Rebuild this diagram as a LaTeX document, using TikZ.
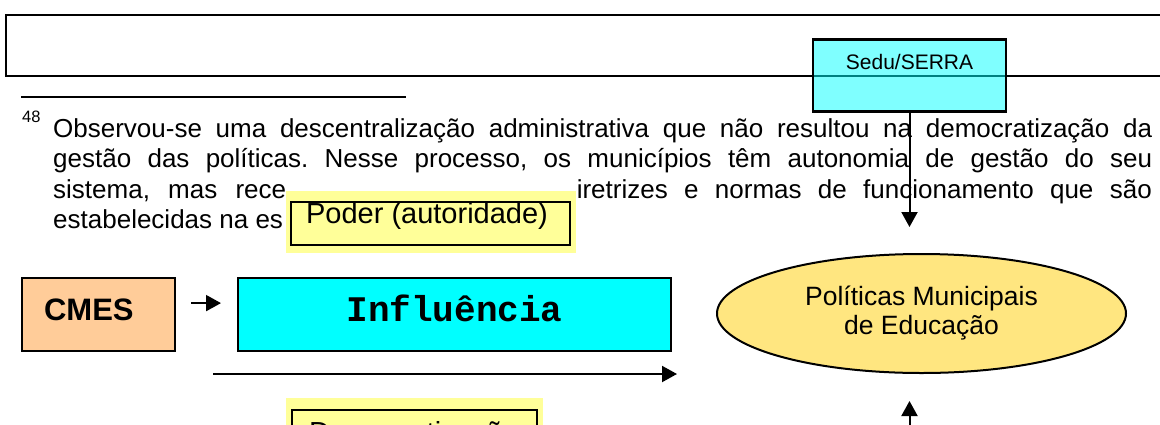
\documentclass[tikz,border=0pt]{standalone}
\usepackage{fontspec}
\setmainfont{Liberation Sans}
\setmonofont{Liberation Mono}
\usepackage{tikz}
\usetikzlibrary{shapes.geometric,arrows.meta}
\frenchspacing

\definecolor{cmesorange}{RGB}{255,204,153}
\definecolor{inflcyan}{RGB}{0,255,255}
\definecolor{poderyellow}{RGB}{255,255,153}
\definecolor{polyellow}{RGB}{255,230,128}

\newcommand{\fsz}[2]{\fontsize{#1}{#2}\selectfont}

\begin{document}
\begin{tikzpicture}[x=1pt,y=-1pt,
  frame/.style={draw,line width=2.5pt},
  box/.style={draw,line width=2.2pt,inner sep=0pt},
  arr/.style={line width=2pt,-{Triangle[length=15pt,width=16pt]}},
  fn/.style={inner sep=0pt,anchor=base west,font=\fsz{26}{30}}]
\useasboundingbox (0,0) rectangle (1160,424);
\clip (0,0) rectangle (1160,424);

% page behind the diagram
\draw[frame] (6,15) rectangle (1175,76);
\draw[line width=2.5pt] (21,97) -- (406,97);
\node[inner sep=0pt,anchor=base west,font=\fsz{16.5}{18}] (fnmark) at (22,122) {48};
\node[fn] (fnA) at (53,137) {\makebox[1099pt][s]{Observou-se uma descentralização administrativa que não resultou na democratização da}};
\node[fn] (fnB) at (53,167.5) {\makebox[1099pt][s]{gestão das políticas. Nesse processo, os municípios têm autonomia de gestão do seu}};
\node[fn] (fnC) at (53,198) {\makebox[233pt][s]{sistema, mas rece}};
\node[fn,anchor=base east] (fnD) at (1152,198) {\makebox[575pt][s]{iretrizes e normas de funcionamento que são}};
\node[fn] (fnE) at (53,228.5) {estabelecidas na es};

% diagram
\node[box,line width=2.5pt,fill=inflcyan,fill opacity=0.5,text opacity=1,anchor=north,
  minimum width=193pt,text height=30pt,text depth=42pt,font=\fsz{21}{24}] (sedu) at (909.5,38) {Sedu/SERRA};

\fill[poderyellow] (286,191) rectangle (576,253);
\node[box,fill=poderyellow,anchor=north west,inner xsep=15pt,text height=21pt,text depth=22pt,
  font=\fsz{29}{33}] (poder) at (290,201) {\makebox[249pt][l]{Poder (autoridade)}};

\node[box,fill=cmesorange,anchor=north west,inner xsep=22pt,text height=42pt,text depth=31pt,
  font=\fsz{31}{35}\bfseries] (cmes) at (21,277) {\makebox[109pt][l]{CMES}};
\node[box,fill=inflcyan,anchor=north west,minimum width=433pt,text height=43pt,text depth=30pt,
  font=\fsz{36}{40}\ttfamily\bfseries] (infl) at (237,277) {Influência};

\node[ellipse,draw,line width=2pt,fill=polyellow,minimum width=409pt,minimum height=119pt,
  inner sep=0pt,align=center,font=\fsz{26.5}{29}] (politicas) at (921.5,313.5) {Políticas Municipais\\de Educação};

\fill[poderyellow] (286,398) rectangle (543,470);
\node[box,fill=poderyellow,anchor=north west,inner xsep=17pt,text height=32pt,text depth=25pt,
  font=\fsz{29}{33}] (democ) at (291,409) {\makebox[211pt][l]{Democratização}};

\coordinate (flowA) at (213,374);
\coordinate (flowB) at (677,374);
\coordinate (baseB) at (909.5,440);

\draw[arr,shorten >=26pt] (sedu.south) -- (sedu.south |- politicas.north);
\draw[arr,shorten <=15pt,shorten >=16pt] ([yshift=11.5pt]cmes.east) -- ([yshift=11.5pt]infl.west);
\draw[arr] (flowA) -- (flowB);
\draw[arr,shorten >=27pt] (baseB) -- (sedu.south |- politicas.south);
\end{tikzpicture}
\end{document}
